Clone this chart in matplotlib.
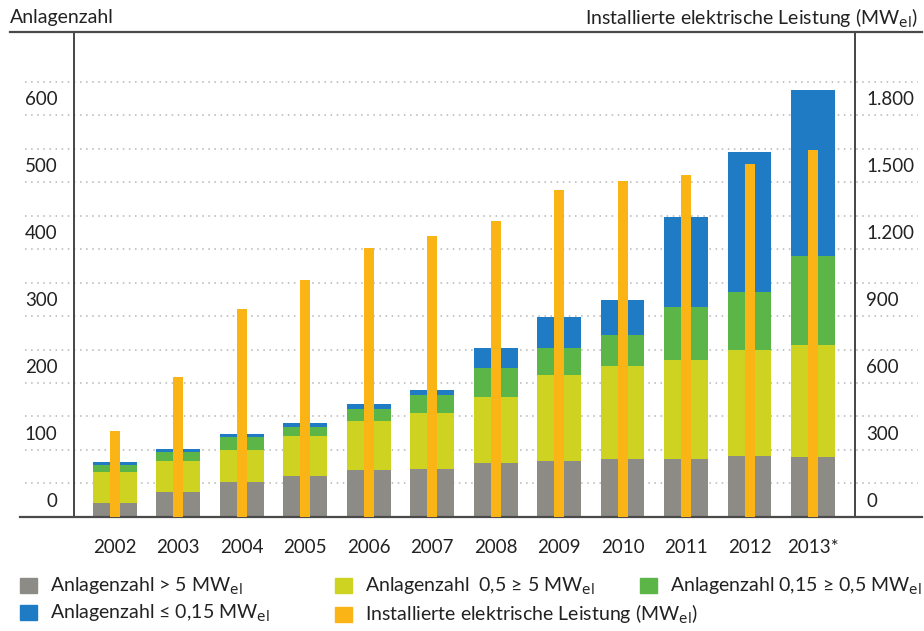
import numpy as np
import matplotlib.pyplot as plt
from matplotlib.patches import Patch
from matplotlib.transforms import ScaledTranslation

# Anlagenzahl je Leistungsklasse und installierte Leistung
jahre = ['2002', '2003', '2004', '2005', '2006', '2007',
         '2008', '2009', '2010', '2011', '2012', '2013*']
n_gross = [21, 37, 52, 61, 70, 71, 80, 83, 86, 86, 91, 90]        # > 5 MW
n_mittel = [46, 46, 48, 60, 73, 84, 99, 129, 139, 149, 159, 166]  # 0,5 - 5 MW
n_klein = [10, 14, 19, 13, 18, 27, 43, 41, 46, 79, 86, 133]       # 0,15 - 0,5 MW
n_mini = [5, 5, 5, 6, 7, 7, 31, 46, 53, 134, 209, 248]            # <= 0,15 MW
leistung = [384, 628, 932, 1061, 1204, 1259, 1326, 1464, 1504, 1531, 1579, 1642]

links_ticks = [0, 100, 200, 300, 400, 500, 600]
rechts_ticks = [0, 300, 600, 900, 1200, 1500, 1800]
rechts_labels = ['0', '300', '600', '900', '1.200', '1.500', '1.800']

c_grau = '#8d8b85'
c_gelb = '#cdd320'
c_gruen = '#5cb547'
c_blau = '#1f7bc3'
c_orange = '#fbb416'
c_linie = '#4a4a4a'
c_text = '#222222'

schrift = 'Lato'
MW = 'MW$_{\\mathrm{el}}$'

fig = plt.figure(figsize=(9.24, 6.31), dpi=100)
ax = fig.add_axes([0.0801, 0.1807, 0.8452, 0.7686])
ax2 = ax.twinx()

x = np.arange(len(jahre))
b = 0.69

b1 = np.array(n_gross)
b2 = b1 + np.array(n_mittel)
b3 = b2 + np.array(n_klein)
ax.bar(x, n_gross, b, color=c_grau, zorder=2)
ax.bar(x, n_mittel, b, bottom=b1, color=c_gelb, zorder=2)
ax.bar(x, n_klein, b, bottom=b2, color=c_gruen, zorder=2)
ax.bar(x, n_mini, b, bottom=b3, color=c_blau, zorder=2)

ax2.bar(x, leistung, 0.157, color=c_orange, zorder=3)

ymax = 724
ax.set_ylim(0, ymax)
ax2.set_ylim(0, ymax * 3)
ax.set_xlim(-0.64, 11.66)

# gepunktete Hilfslinien alle 50 Anlagen, ueber die Achsen hinaus
ax.hlines(np.arange(50, 700, 50), -0.063, 1.081, transform=ax.get_yaxis_transform(),
          colors='#b5b5b5', linestyles=(0, (1, 3)), linewidth=1.1, zorder=0, clip_on=False)
# obere und untere Linie
ax.plot([-0.082, 1.086], [1, 1], transform=ax.transAxes, color=c_linie, lw=1.6, clip_on=False)
ax.plot([-0.069, 1.086], [0, 0], transform=ax.transAxes, color=c_linie, lw=1.6, clip_on=False, zorder=4)

for a in (ax, ax2):
    a.spines['top'].set_visible(False)
    a.spines['bottom'].set_visible(False)
    a.spines['left'].set_color(c_linie)
    a.spines['right'].set_color(c_linie)
    a.spines['left'].set_linewidth(1.4)
    a.spines['right'].set_linewidth(1.4)

ax.set_xticks(x)
ax.set_xticklabels(jahre, fontsize=13.5, family=schrift, color=c_text)
ax.tick_params(axis='x', length=0, pad=16)

ax.set_yticks(links_ticks)
ax.set_yticklabels([str(v) for v in links_ticks], fontsize=13.5, family=schrift, color=c_text)
ax.tick_params(axis='y', length=0, pad=12)

ax2.set_yticks(rechts_ticks)
ax2.set_yticklabels(rechts_labels, fontsize=13.5, family=schrift, color=c_text)
ax2.tick_params(axis='y', length=0, pad=8)

# Beschriftungen liegen zwischen den Hilfslinien
versatz = ScaledTranslation(0, 17 / 100, fig.dpi_scale_trans)
for lab in ax.get_yticklabels() + ax2.get_yticklabels():
    lab.set_transform(lab.get_transform() + versatz)

fig.text(10 / 924, 1 - 18 / 631, 'Anlagenzahl', fontsize=14, family=schrift,
         ha='left', va='center', color=c_text)
fig.text(918 / 924, 1 - 18 / 631, 'Installierte elektrische Leistung (' + MW + ')',
         fontsize=14, family=schrift, ha='right', va='center', color=c_text)

# Legende in drei Spalten
spalten = [
    (20, [c_grau, c_blau], ['Anlagenzahl > 5 ' + MW, 'Anlagenzahl \u2264 0,15 ' + MW]),
    (335, [c_gelb, c_orange], ['Anlagenzahl  0,5 \u2265 5 ' + MW,
                               'Installierte elektrische Leistung (' + MW + ')']),
    (640, [c_gruen], ['Anlagenzahl 0,15 \u2265 0,5 ' + MW]),
]
for xpos, farben, texte in spalten:
    fig.legend([Patch(color=f) for f in farben], texte, loc='upper left',
               bbox_to_anchor=(xpos / 924, 1 - 576 / 631), frameon=False,
               prop={'family': schrift, 'size': 14}, handlelength=0.85, handleheight=0.85,
               handletextpad=0.7, labelspacing=0.3, borderaxespad=0, borderpad=0,
               labelcolor=c_text)

fig.savefig('out.png', dpi=100)
